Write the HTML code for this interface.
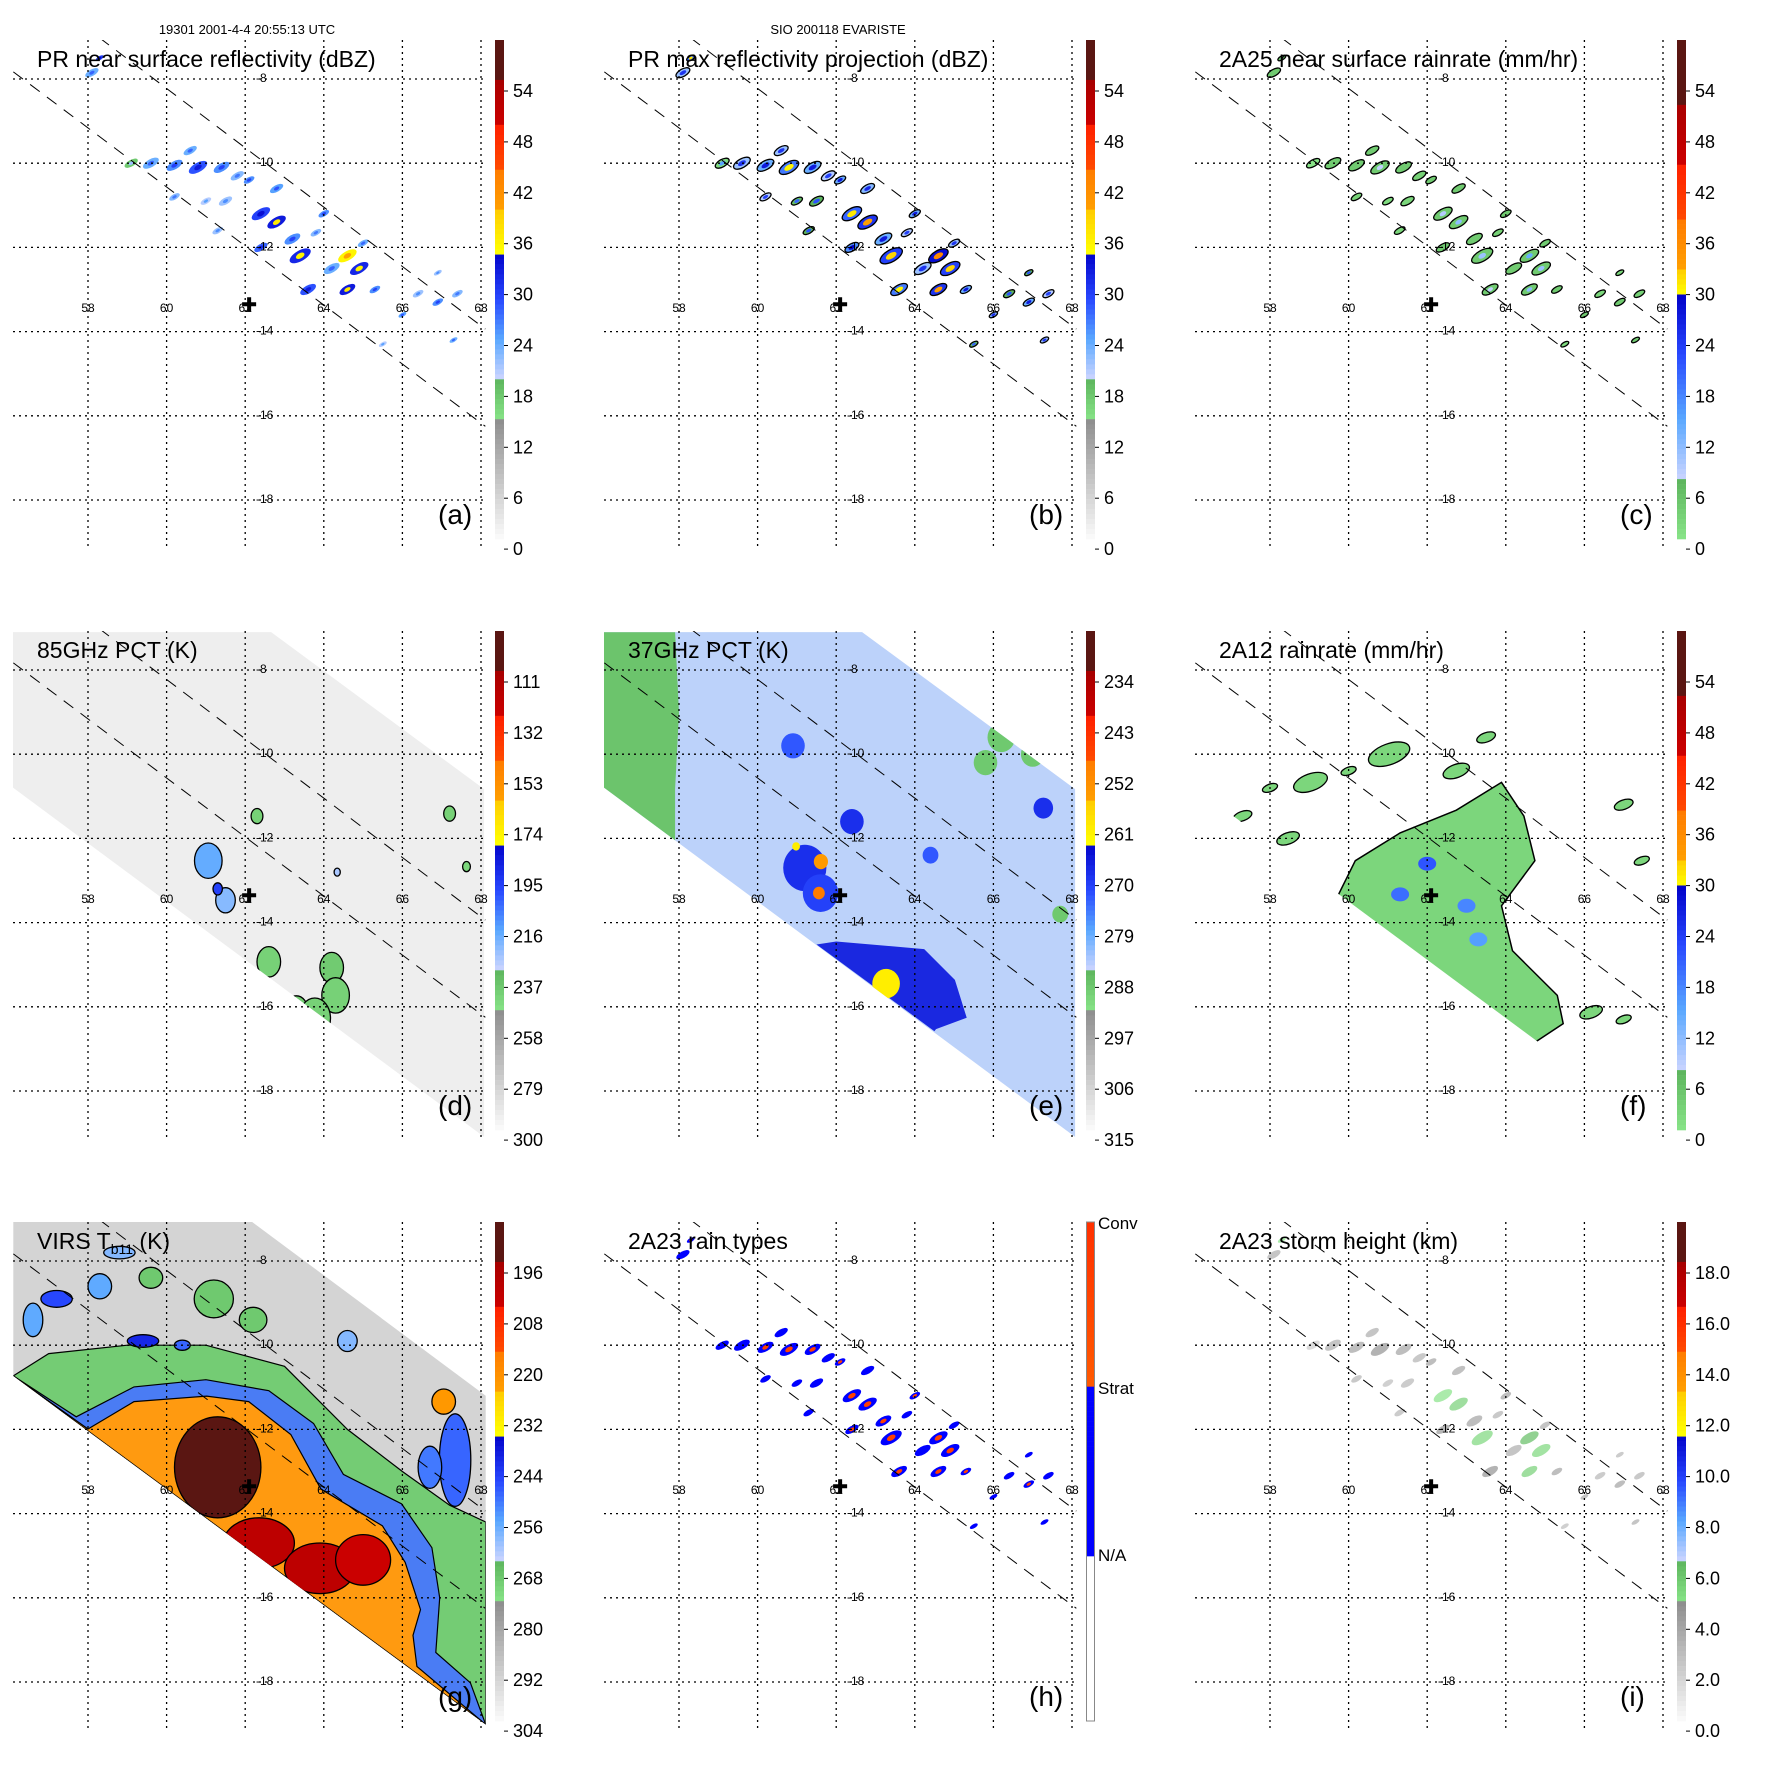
<!DOCTYPE html>
<html><head><meta charset="utf-8"><style>
html,body{margin:0;padding:0;background:#fff;}
svg{display:block;font-family:"Liberation Sans",sans-serif;}
</style></head><body>
<svg id="fig" width="1771" height="1771" viewBox="0 0 1771 1771" xmlns="http://www.w3.org/2000/svg">
<text x="247" y="34" font-size="13" text-anchor="middle">19301 2001-4-4 20:55:13 UTC</text>
<text x="838" y="34" font-size="13" text-anchor="middle">SIO 200118 EVARISTE</text>
</svg>
<script>
// ---------- data ----------
const LON_TICKS=[58,60,62,64,66,68];
const LAT_TICKS=[-8,-10,-12,-14,-16,-18];
const CENTER_LON=62.1, CENTER_LAT=-13.35;
// PR echoes
const PR_LON=[58.1,58.3,59.1,59.6,60.2,60.8,61.4,60.6,61.8,62.1,62.8,60.2,61.5,62.4,62.8,63.2,63.8,63.4,62.4,64.6,64.9,64.2,64.6,65.3,66.4,66.9,67.4,66.0,67.3,64.0,65.0,66.9,61.3,65.5,63.6,61.0];
const PR_LAT=[-7.85,-7.5,-10.0,-10.0,-10.05,-10.1,-10.1,-9.7,-10.3,-10.4,-10.6,-10.8,-10.9,-11.2,-11.4,-11.8,-11.65,-12.2,-12.0,-12.2,-12.5,-12.5,-13.0,-13.0,-13.1,-13.3,-13.1,-13.6,-14.2,-11.2,-11.9,-12.6,-11.6,-14.3,-13.0,-10.9];
const PR_DBZ=[28,34,22,28,30,33,30,28,27,30,29,27,26,34,37,30,27,36,32,40,36,28,37,30,26,30,27,29,28,30,28,26,26,25,33,25];
const PR_R=[0.25,0.15,0.25,0.3,0.3,0.35,0.3,0.25,0.25,0.2,0.25,0.2,0.25,0.35,0.35,0.3,0.2,0.4,0.25,0.35,0.35,0.3,0.3,0.2,0.2,0.2,0.2,0.15,0.15,0.2,0.2,0.15,0.2,0.15,0.3,0.2];
// TMI swath / VIRS swath
const TMI_SWATH_LON=[56.07,62.66,68.08,68.08,56.07];
const TMI_SWATH_LAT=[-7.10,-7.10,-10.83,-19.09,-10.78];
const VIRS_SWATH_LON=[56.1,62.1,68.12,68.12,56.1];
const VIRS_SWATH_LAT=[-7.02,-7.02,-11.2,-19.01,-10.73];
// 85GHz blobs
const D_LON=[61.06,61.5,62.6,64.2,64.3,63.3,62.3,67.2,67.63,64.34,63.77,61.3];
const D_LAT=[-12.53,-13.47,-14.93,-15.07,-15.73,-16.1,-11.47,-11.41,-12.67,-12.8,-16.27,-13.2];
const D_VAL=[215,220,240,238,240,238,240,240,242,225,240,195];
const D_R=[0.35,0.25,0.3,0.3,0.35,0.3,0.15,0.15,0.1,0.08,0.4,0.12];
// 37GHz
const E_GREEN_LON=[56.07,57.9,58.0,57.9,57.9,56.07];
const E_GREEN_LAT=[-7.10,-7.10,-9.02,-10.83,-12.05,-10.79];
const E_DEEP_LON=[61.5,62.0,64.24,65.02,65.32,64.54,64.5];
const E_DEEP_LAT=[-14.52,-14.45,-14.63,-15.36,-16.26,-16.53,-16.58];
const E_SPOT_LON=[61.2,61.6,63.27,61.61,61.56,60.98,67.27,62.4,60.9,64.4,66.2,65.8,67.0,66.5,67.7];
const E_SPOT_LAT=[-12.7,-13.3,-15.45,-12.55,-13.3,-12.19,-11.28,-11.6,-9.8,-12.4,-9.6,-10.2,-10.0,-8.8,-13.8];
const E_SPOT_VAL=[268,270,260,254,248,260,268,268,272,272,288,288,288,288,288];
const E_SPOT_R=[0.55,0.45,0.35,0.18,0.15,0.1,0.25,0.3,0.3,0.2,0.35,0.3,0.3,0.25,0.2];
// 2A12 rainrate
const F_MAIN_LON=[59.6,60.17,61.31,62.74,63.89,64.46,64.74,63.89,64.17,65.31,65.46,64.6,64.17,60.0];
const F_MAIN_LAT=[-13.6,-12.53,-11.87,-11.33,-10.67,-11.47,-12.53,-13.6,-14.67,-15.73,-16.4,-16.93,-17.2,-14.0];
const F_BLOB_LON=[59.03,61.03,62.74,57.3,58.46,67.0,67.46,66.17,67.0,60.0,63.5,58.0];
const F_BLOB_LAT=[-10.67,-10.0,-10.4,-11.47,-12.0,-11.2,-12.53,-16.13,-16.3,-10.4,-9.6,-10.8];
const F_BLOB_R=[0.45,0.55,0.35,0.25,0.3,0.25,0.2,0.3,0.2,0.2,0.25,0.2];
const F_SPOT_LON=[61.31,63.0,63.3,62.0];
const F_SPOT_LAT=[-13.33,-13.6,-14.4,-12.6];
const F_SPOT_VAL=[20,18,16,22];
// VIRS
const G_GREEN_LON=[56.1,57.0,59.0,61.0,63.0,64.6,66.0,67.2,68.12,68.12];
const G_GREEN_LAT=[-10.73,-10.2,-10.0,-10.0,-10.5,-12.0,-13.0,-13.8,-14.2,-19.01];
const G_BLUE_LON=[57.7,59.17,61.0,62.6,63.74,64.5,65.98,66.75,66.95,66.85,67.73];
const G_BLUE_LAT=[-11.7,-10.99,-10.82,-11.08,-11.86,-13.07,-13.77,-14.81,-16.0,-17.3,-18.02];
const G_ORANGE_LON=[58.0,59.17,61.02,62.09,63.16,63.93,65.49,66.07,66.46,66.27,66.37];
const G_ORANGE_LAT=[-11.99,-11.34,-11.21,-11.34,-12.12,-13.42,-14.29,-15.16,-16.28,-16.89,-17.63];
const G_CORE_LON=[61.3,62.35,63.9,65.0];
const G_CORE_LAT=[-12.9,-14.7,-15.3,-15.1];
const G_CORE_VAL=[192,200,200,204];
const G_CORE_RX=[1.1,0.9,0.9,0.7];
const G_CORE_RY=[1.2,0.6,0.6,0.6];
const G_SPOT_LON=[67.34,67.05,57.2,58.3,59.4,61.2,62.2,66.7,56.6,58.8,60.4,59.6,64.6];
const G_SPOT_LAT=[-12.73,-11.34,-8.9,-8.6,-9.9,-8.9,-9.4,-12.9,-9.4,-7.8,-10.0,-8.4,-9.9];
const G_SPOT_VAL=[248,222,245,255,240,268,268,250,255,258,248,268,258];
const G_SPOT_RX=[0.4,0.3,0.4,0.3,0.4,0.5,0.35,0.3,0.25,0.4,0.2,0.3,0.25];
const G_SPOT_RY=[1.1,0.3,0.2,0.3,0.15,0.45,0.3,0.5,0.4,0.15,0.12,0.25,0.25];
// colorbar labels
const LAB_DBZ=[54,48,42,36,30,24,18,12,6,0];
const LAB_85=[111,132,153,174,195,216,237,258,279,300];
const LAB_37=[234,243,252,261,270,279,288,297,306,315];
const LAB_VIRS=[196,208,220,232,244,256,268,280,292,304];
const LAB_HT=["18.0","16.0","14.0","12.0","10.0","8.0","6.0","4.0","2.0","0.0"];

// ---------- scales ----------
const SA=[[0,'#5a1612'],[0.084,'#5a1612'],[0.084,'#a80000'],[0.172,'#cc0000'],[0.172,'#ff2000'],[0.257,'#ff4a00'],[0.257,'#ff7a00'],[0.341,'#ffa000'],[0.341,'#ffcc00'],[0.425,'#ffff00'],[0.425,'#0000c8'],[0.52,'#2848ff'],[0.6,'#5aa8ff'],[0.678,'#cad4ff'],[0.678,'#5cb45c'],[0.762,'#88e488'],[0.762,'#8e8e8e'],[1,'#fbfbfb']];
const SC=[[0,'#5a1612'],[0.13,'#5a1612'],[0.13,'#a80000'],[0.25,'#cc0000'],[0.25,'#ff2000'],[0.36,'#ff4a00'],[0.36,'#ff7a00'],[0.46,'#ffa000'],[0.46,'#ffcc00'],[0.51,'#ffff00'],[0.51,'#0000c8'],[0.63,'#2848ff'],[0.76,'#5aa8ff'],[0.88,'#cad4ff'],[0.88,'#5cb45c'],[1,'#88e488']];
const SH=[[0,'#ff3000'],[0.333,'#ff5a00'],[0.333,'#0000ff'],[0.667,'#0000ff'],[0.667,'#ffffff'],[1,'#ffffff']];
function hex(c){return [parseInt(c.substr(1,2),16),parseInt(c.substr(3,2),16),parseInt(c.substr(5,2),16)];}
function colAt(S,f){f=Math.max(0,Math.min(1,f));for(let i=0;i<S.length-1;i++){const a=S[i],b=S[i+1];if(f>=a[0]&&f<=b[0]){if(b[0]===a[0])continue;const t=(f-a[0])/(b[0]-a[0]);const A=hex(a[1]),B=hex(b[1]);return 'rgb('+A.map((v,k)=>Math.round(v+(B[k]-v)*t)).join(',')+')';}}return S[S.length-1][1];}
function valFrac(v,L){const t=(v-L[0])/(L[9]-L[0]);const y=91+t*458;return (y-40)/499;}
function X(lon){return 88+(lon-58)*39.3;}
function Y(lat){return 79+(-8-lat)*42.1;}
const NS='http://www.w3.org/2000/svg';
const svg=document.getElementById('fig');
function mk(tag,attrs,parent){const e=document.createElementNS(NS,tag);for(const k in attrs)e.setAttribute(k,attrs[k]);parent.appendChild(e);return e;}
function pts(lons,lats){return lons.map((l,i)=>X(l).toFixed(1)+','+Y(lats[i]).toFixed(1)).join(' ');}

const OFF=591;
const panels=[
 {k:'a',c:0,r:0,title:'PR near surface reflectivity (dBZ)',lab:LAB_DBZ,S:SA},
 {k:'b',c:1,r:0,title:'PR max reflectivity projection (dBZ)',lab:LAB_DBZ,S:SA},
 {k:'c',c:2,r:0,title:'2A25 near surface rainrate (mm/hr)',lab:LAB_DBZ,S:SC},
 {k:'d',c:0,r:1,title:'85GHz PCT (K)',lab:LAB_85,S:SA},
 {k:'e',c:1,r:1,title:'37GHz PCT (K)',lab:LAB_37,S:SA},
 {k:'f',c:2,r:1,title:'2A12 rainrate (mm/hr)',lab:LAB_DBZ,S:SC},
 {k:'g',c:0,r:2,title:'VIRS',lab:LAB_VIRS,S:SA},
 {k:'h',c:1,r:2,title:'2A23 rain types',lab:null,S:SH},
 {k:'i',c:2,r:2,title:'2A23 storm height (km)',lab:LAB_HT,S:SA}
];
const TITLE_NAMES={a:'pr-reflectivity-title',b:'pr-max-title',c:'2a25-rainrate-title',d:'85ghz-title',e:'37ghz-title',f:'2a12-title',g:'virs-title',h:'rain-types-title',i:'storm-height-title'};

function ell(g,lon,lat,rx,ry,fill,stroke,rot){
  const e=mk('ellipse',{cx:X(lon).toFixed(1),cy:Y(lat).toFixed(1),rx:rx.toFixed(1),ry:ry.toFixed(1),fill:fill,transform:'rotate('+(rot||0)+' '+X(lon).toFixed(1)+' '+Y(lat).toFixed(1)+')'},g);
  if(stroke){e.setAttribute('stroke',stroke);e.setAttribute('stroke-width','1.3');}
  return e;
}

panels.forEach(p=>{
  const ox=p.c*OFF, oy=p.r*OFF;
  const g=mk('g',{transform:'translate('+ox+','+oy+')'},svg);
  
  
  const defs=mk('defs',{},g);
  const cp=mk('clipPath',{id:'clip'+p.k},defs);
  mk('rect',{x:13,y:40,width:473,height:509},cp);
  const cs=mk('clipPath',{id:'swath'+p.k},defs);
  if(p.k==='g') mk('polygon',{points:pts(VIRS_SWATH_LON,VIRS_SWATH_LAT)},cs);
  else mk('polygon',{points:pts(TMI_SWATH_LON,TMI_SWATH_LAT)},cs);
  const field=mk('g',{'clip-path':'url(#clip'+p.k+')'},g);
  
  
  if(p.k==='d'||p.k==='e'||p.k==='g'){
    const fills={d:'#eeeeee',e:'#bcd2fa',g:'#d4d4d4'};
    const b=p.k==='g'?mk('polygon',{points:pts(VIRS_SWATH_LON,VIRS_SWATH_LAT),fill:fills.g},field):mk('polygon',{points:pts(TMI_SWATH_LON,TMI_SWATH_LAT),fill:fills[p.k]},field);
    
    
  }
  const sw=mk('g',{'clip-path':'url(#swath'+p.k+')'},field);
  const C=v=>colAt(p.S,valFrac(v,p.lab||LAB_DBZ));

  if(['a','b','c','h','i'].includes(p.k)){
    PR_LON.forEach((lon,i)=>{
      const dbz=PR_DBZ[i], r=PR_R[i]*39.3*0.75;
      let e;
      if(p.k==='a'){
        e=ell(field,lon,PR_LAT[i],r,r*0.45,C(dbz-4),null,-30);
        ell(field,lon,PR_LAT[i],r*0.4,r*0.22,C(dbz),null,-30);
      } else if(p.k==='b'){
        e=ell(field,lon,PR_LAT[i],r*1.05,r*0.5,C(dbz-6),'#000',-30);
        ell(field,lon,PR_LAT[i],r*0.5,r*0.25,C(dbz+3),null,-30);
      } else if(p.k==='c'){
        const rr=Math.max(1,(dbz-22)*0.8);
        e=ell(field,lon,PR_LAT[i],r,r*0.45,C(Math.min(rr,5)),'#000',-30);
        if(rr>8) ell(field,lon,PR_LAT[i],r*0.35,r*0.2,C(rr),null,-30);
      } else if(p.k==='h'){
        e=ell(field,lon,PR_LAT[i],r,r*0.45,'#0000ff',null,-30);
        if(dbz>=30) ell(field,lon,PR_LAT[i],r*0.4,r*0.22,'#ff4000',null,-30);
      } else {
        const ht=2+(dbz-20)*0.22;
        e=ell(field,lon,PR_LAT[i],r,r*0.45,colAt(SA,valFrac(ht,[18,16,14,12,10,8,6,4,2,0])),null,-30);
        e.setAttribute('opacity','0.7');
      }
      
      
    });
  }
  if(p.k==='d'){
    D_LON.forEach((lon,i)=>{
      const e=ell(sw,lon,D_LAT[i],D_R[i]*39.3,D_R[i]*42.1*1.2,C(D_VAL[i]),'#000',0);
      
      
    });
  }
  if(p.k==='e'){
    const gr=mk('polygon',{points:pts(E_GREEN_LON,E_GREEN_LAT),fill:'#6cc46c'},sw);
    
    
    const dp=mk('polygon',{points:pts(E_DEEP_LON,E_DEEP_LAT),fill:'#1a28e0'},sw);
    
    
    E_SPOT_LON.forEach((lon,i)=>{
      const e=ell(sw,lon,E_SPOT_LAT[i],E_SPOT_R[i]*39.3,E_SPOT_R[i]*42.1,C(E_SPOT_VAL[i]),null,0);
      
      
    });
  }
  if(p.k==='f'){
    const m=mk('polygon',{points:pts(F_MAIN_LON,F_MAIN_LAT),fill:'#7cd67c',stroke:'#000','stroke-width':1.5},sw);
    
    
    F_BLOB_LON.forEach((lon,i)=>{
      const e=ell(sw,lon,F_BLOB_LAT[i],F_BLOB_R[i]*39.3,F_BLOB_R[i]*42.1*0.45,'#7cd67c','#000',-20);
      
      
    });
    F_SPOT_LON.forEach((lon,i)=>{
      const e=ell(sw,lon,F_SPOT_LAT[i],9,7,C(F_SPOT_VAL[i]),null,0);
      
      
    });
  }
  if(p.k==='g'){
    const layer=(lons,lats,fill,name)=>{
      const L=lons.concat([68.12,56.1]), A=lats.concat([-19.01,-10.73]);
      const e=mk('polygon',{points:pts(L,A),fill:fill,stroke:'#000','stroke-width':1.2},sw);
      
      
    };
    layer(G_GREEN_LON,G_GREEN_LAT,'#74cc74','virs-green-band');
    layer(G_BLUE_LON,G_BLUE_LAT,'#4a7cf4','virs-blue-band');
    layer(G_ORANGE_LON,G_ORANGE_LAT,'#ff9a10','virs-orange-band');
    G_SPOT_LON.forEach((lon,i)=>{
      const e=ell(sw,lon,G_SPOT_LAT[i],G_SPOT_RX[i]*39.3,G_SPOT_RY[i]*42.1,C(G_SPOT_VAL[i]),'#000',0);
      
      
    });
    G_CORE_LON.forEach((lon,i)=>{
      const e=ell(sw,lon,G_CORE_LAT[i],G_CORE_RX[i]*39.3,G_CORE_RY[i]*42.1,C(G_CORE_VAL[i]),'#000',0);
      
      
    });
  }
  // grid
  const grid=mk('g',{stroke:'#000','stroke-width':1.3,'stroke-dasharray':'2,4'},g);
  
  
  LON_TICKS.forEach(l=>{const e=mk('line',{x1:X(l),x2:X(l),y1:40,y2:549},grid);});
  LAT_TICKS.forEach(l=>{const e=mk('line',{x1:13,x2:486,y1:Y(l),y2:Y(l)},grid);});
  // PR swath edges
  const dl=mk('g',{stroke:'#000','stroke-width':1,'stroke-dasharray':'12,9',fill:'none','clip-path':'url(#clip'+p.k+')'},g);
  
  
  mk('line',{x1:X(56.1),y1:Y(-7.83),x2:X(68.11),y2:Y(-16.25)},dl);
  mk('line',{x1:X(58.29),y1:Y(-7.02),x2:X(68.11),y2:Y(-13.94)},dl);
  // tick labels
  LON_TICKS.forEach(l=>{const t=mk('text',{x:X(l),y:312,'font-size':12,'text-anchor':'middle'},g);t.textContent=l;});
  LAT_TICKS.forEach(l=>{const t=mk('text',{x:256,y:Y(l)+3,'font-size':12},g);t.textContent=l;});
  // center cross
  const cr=mk('path',{d:'M'+(X(CENTER_LON)-7)+' '+Y(CENTER_LAT)+'h14M'+X(CENTER_LON)+' '+(Y(CENTER_LAT)-7)+'v14',stroke:'#000','stroke-width':4},g);
  
  
  // title
  const tt=mk('text',{x:37,y:67,'font-size':23},g);
  if(p.k==='g'){tt.textContent='VIRS T';const s=mk('tspan',{'font-size':14,dy:5},tt);s.textContent='b11';const s2=mk('tspan',{dy:-5},tt);s2.textContent=' (K)';}
  else tt.textContent=p.title;
  
  
  const lt=mk('text',{x:438,y:524,'font-size':28},g);
  lt.textContent='('+p.k+')';
  
  
  // colorbar
  const cb=mk('g',{},g);
  
  
  const N=100;
  for(let i=0;i<N;i++){mk('rect',{x:495,y:(40+i*4.99).toFixed(2),width:9,height:5.3,fill:colAt(p.S,(i+0.5)/N)},cb);}
  if(p.k==='h'){
    mk('rect',{x:495.5,y:40,width:8,height:499,fill:'none',stroke:'#888','stroke-width':1},cb);
    [['Conv',47],['Strat',212],['N/A',379]].forEach(a=>{const t=mk('text',{x:507,y:a[1],'font-size':17},cb);t.textContent=a[0];});
  } else {
    p.lab.forEach((v,i)=>{
      const y=91+i*50.9;
      mk('line',{x1:504,x2:508,y1:y,y2:y,stroke:'#000'},cb);
      const t=mk('text',{x:513,y:y+6,'font-size':18},cb);
      t.textContent=v;
      
      
    });
  }
});
</script>
</body></html>
